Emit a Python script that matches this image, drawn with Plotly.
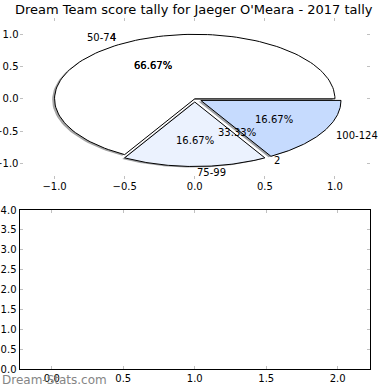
import numpy as np
import plotly.graph_objects as go

# ---- data ----
title = "Dream Team score tally for Jaeger O'Meara - 2017 tally"
categories = ["50-74", "75-99", "100-124"]
counts = [4, 1, 1]
explode = [0.0, 0.05, 0.05]
colors = ["#ffffff", "#ebf2fe", "#c6dbfe"]
# second (overlaid) pie
counts2 = [4, 2]
labels2 = ["4", "2"]
xticks = [-1.0, -0.5, 0.0, 0.5, 1.0]
yticks = [-1.0, -0.5, 0.0, 0.5, 1.0]
xticks2 = [0.0, 0.5, 1.0, 1.5, 2.0]
yticks2 = [0.0, 0.5, 1.0, 1.5, 2.0, 2.5, 3.0, 3.5, 4.0]

FONT = "DejaVu Sans"
W = H = 390


def darker(hexcol, f=0.3):
    h = hexcol.lstrip("#")
    r, g, b = (int(h[i:i + 2], 16) for i in (0, 2, 4))
    return f"rgba({int(r*f)},{int(g*f)},{int(b*f)},0.5)"


def wedge(t1, t2, cx, cy, r=1.0, n=120):
    th = np.radians(np.linspace(t1, t2, n))
    xs = np.concatenate([[cx], cx + r * np.cos(th), [cx]])
    ys = np.concatenate([[cy], cy + r * np.sin(th), [cy]])
    return xs, ys


fig = go.Figure()
annotations = []

total = sum(counts)
angles = np.cumsum([0] + [c / total * 360 for c in counts])
shadow_off = -0.017

wedges = []
for i, cat in enumerate(categories):
    t1, t2 = angles[i], angles[i + 1]
    tm = np.radians((t1 + t2) / 2)
    cx = explode[i] * np.cos(tm)
    cy = explode[i] * np.sin(tm)
    wedges.append((t1, t2, cx, cy, tm))

# shadows
for i, (t1, t2, cx, cy, tm) in enumerate(wedges):
    xs, ys = wedge(t1, t2, cx + shadow_off, cy + shadow_off)
    fig.add_trace(go.Scatter(x=xs, y=ys, mode="lines", fill="toself",
                             fillcolor=darker(colors[i]), line=dict(width=0),
                             hoverinfo="skip", showlegend=False, xaxis="x", yaxis="y"))
# wedges
for i, (t1, t2, cx, cy, tm) in enumerate(wedges):
    xs, ys = wedge(t1, t2, cx, cy)
    fig.add_trace(go.Scatter(x=xs, y=ys, mode="lines", fill="toself",
                             fillcolor=colors[i], line=dict(color="black", width=1),
                             hoverinfo="skip", showlegend=False, xaxis="x", yaxis="y"))
    lx = cx + 1.1 * np.cos(tm)
    ly = cy + 1.1 * np.sin(tm)
    annotations.append(dict(x=lx, y=ly, xref="x", yref="y", text=categories[i],
                            showarrow=False, xanchor="right" if lx < -1e-9 else "left",
                            yanchor="middle", font=dict(size=10, color="black", family=FONT)))
    px = cx + 0.6 * np.cos(tm)
    py = cy + 0.6 * np.sin(tm)
    annotations.append(dict(x=px, y=py, xref="x", yref="y",
                            text=f"{counts[i] / total * 100:.2f}%",
                            showarrow=False, xanchor="center", yanchor="middle",
                            font=dict(size=10, color="black", family=FONT)))

# second pie labels
total2 = sum(counts2)
angles2 = np.cumsum([0] + [c / total2 * 360 for c in counts2])
for i, lab in enumerate(labels2):
    tm = np.radians((angles2[i] + angles2[i + 1]) / 2)
    lx, ly = 1.1 * np.cos(tm), 1.1 * np.sin(tm)
    annotations.append(dict(x=lx, y=ly, xref="x", yref="y", text=lab, showarrow=False,
                            xanchor="right" if lx < 0 else "left", yanchor="middle",
                            font=dict(size=10, color="black", family=FONT)))
    annotations.append(dict(x=0.6 * np.cos(tm), y=0.6 * np.sin(tm), xref="x", yref="y",
                            text=f"{counts2[i] / total2 * 100:.2f}%", showarrow=False,
                            xanchor="center", yanchor="middle",
                            font=dict(size=10, color="black", family=FONT)))

# empty bottom axes
fig.add_trace(go.Scatter(x=[], y=[], xaxis="x2", yaxis="y2", showlegend=False))

# title & watermark
annotations.append(dict(x=194.25 / W, y=1 - 9 / H, xref="paper", yref="paper", text=title,
                        showarrow=False, xanchor="center", yanchor="middle",
                        font=dict(size=13, color="black", family=FONT)))
annotations.append(dict(x=0.0, y=1 - 380 / H, xref="paper", yref="paper", text="Dream-Stats.com",
                        showarrow=False, xanchor="left", yanchor="middle",
                        font=dict(size=12, color="#858585", family=FONT)))

tickfont = dict(size=10, color="black", family=FONT)
common = dict(showgrid=False, zeroline=False, ticks="inside", ticklen=3,
              tickcolor="#c0c0c0", tickwidth=1, tickfont=tickfont, automargin=False,
              fixedrange=True)

xdom = [19.5 / W, 370 / W]
fig.update_layout(
    width=W, height=H,
    margin=dict(l=0, r=0, t=0, b=0),
    paper_bgcolor="white", plot_bgcolor="rgba(0,0,0,0)",
    showlegend=False,
    xaxis=dict(domain=xdom, range=[-1.25, 1.25], anchor="y", tickvals=xticks,
               tickformat=".1f", showline=False, mirror="ticks", **common),
    yaxis=dict(domain=[1 - 179.4 / H, 1 - 18.2 / H], range=[-1.25, 1.25], anchor="x",
               tickvals=yticks, tickformat=".1f", showline=False, mirror="ticks", **common),
    xaxis2=dict(domain=xdom, range=[-0.226, 2.226], anchor="y2", tickvals=xticks2,
                tickformat=".1f", showline=True, linecolor="black", linewidth=1,
                mirror="ticks", **common),
    yaxis2=dict(domain=[1 - 369.3 / H, 1 - 210 / H], range=[0, 4], anchor="x2",
                tickvals=yticks2, tickformat=".1f", showline=True, linecolor="black",
                linewidth=1, mirror="ticks", **common),
    annotations=annotations,
)

fig.write_html("out.html", config={"displayModeBar": False},
               post_script="document.body.style.margin='0';")
